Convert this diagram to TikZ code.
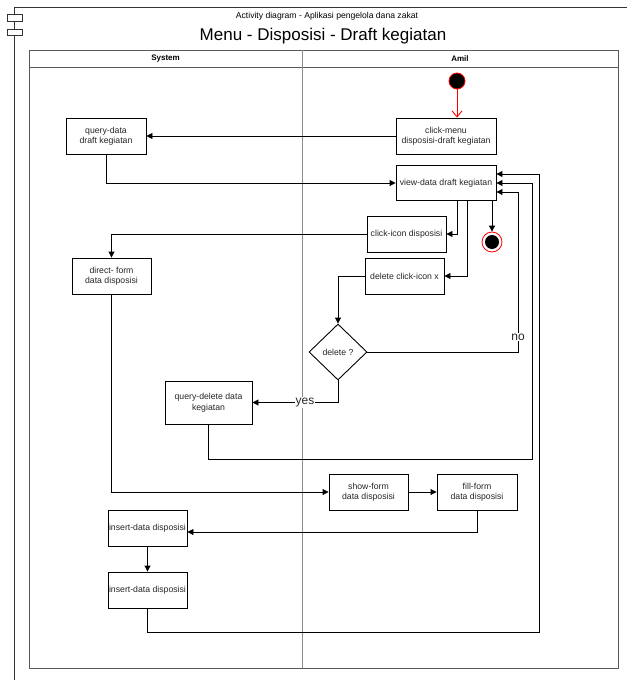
\documentclass[tikz,border=0pt]{standalone}
\usepackage{fontspec}
\setmainfont{Liberation Sans}
\usetikzlibrary{arrows.meta,shapes.geometric}

\tikzset{
  act/.style={draw=black, line width=0.9pt, fill=white, align=center, inner sep=1pt,
    text=black!85, font=\fontsize{8.7}{10.5}\selectfont},
  flow/.style={draw=black, line width=0.9pt, -{Triangle[length=6pt,width=6pt]}},
  lane/.style={draw=black!65, line width=1pt},
  guard/.style={fill=white, inner sep=1pt, text=black!85, font=\fontsize{12}{14}\selectfont},
}

\begin{document}
\begin{tikzpicture}[x=1pt, y=-1pt]
\useasboundingbox (0,0) rectangle (627,680);

% outer frame with component tabs
\draw[black!80, line width=1pt] (14,680) -- (14,7) -- (627,7);
\draw[black!80, line width=1pt, fill=white] (7,14) rectangle (22,21);
\draw[black!80, line width=1pt, fill=white] (7,29) rectangle (22,35);

% titles
\node[font=\fontsize{8.6}{10}\selectfont] (subtitle) at (327,16) {Activity diagram - Aplikasi pengelola dana zakat};
\node[font=\fontsize{17}{20}\selectfont] (title) at (323,36) {Menu - Disposisi - Draft kegiatan};

% swimlane pool
\draw[lane] (29,50) rectangle (618,668);
\draw[lane] (29,67) -- (618,67);
\draw[lane, draw=black!45] (302,50) -- (302,668);
\node[font=\fontsize{8}{9}\selectfont\bfseries] (lsys) at (165.5,58.5) {System};
\node[font=\fontsize{8}{9}\selectfont\bfseries] (lamil) at (460,58.5) {Amil};

% start / end
\node[circle, draw=red, fill=black, line width=0.8pt, minimum size=16pt, inner sep=0] (init) at (457,81) {};
\node[circle, draw=red, fill=white, line width=0.8pt, minimum size=20pt, inner sep=0] (fin) at (492,242) {};
\fill[black] (fin.center) circle (7pt);

% actions
\node[act, minimum width=100pt, minimum height=36pt] (menu) at (446,136) {click-menu\\disposisi-draft kegiatan};
\node[act, minimum width=100pt, minimum height=35pt] (view) at (446,183) {view-data draft kegiatan};
\node[act, minimum width=79pt, minimum height=36pt] (icondisp) at (406.5,234) {click-icon disposisi};
\node[act, minimum width=79pt, minimum height=36pt] (delx) at (404.5,276) {delete click-icon x};
\node[act, diamond, minimum width=58pt, minimum height=56pt, inner sep=0] (dec) at (338,352) {delete ?};
\node[act, minimum width=87pt, minimum height=43pt] (qdel) at (208.5,402.5) {query-delete data\\kegiatan};
\node[act, minimum width=80pt, minimum height=36pt] (qdata) at (106,136) {query-data\\draft kegiatan};
\node[act, minimum width=79pt, minimum height=36pt] (direct) at (111.5,276) {direct- form\\data disposisi};
\node[act, minimum width=79pt, minimum height=36pt] (show) at (368.5,492) {show-form\\data disposisi};
\node[act, minimum width=80pt, minimum height=36pt] (fill) at (477,492) {fill-form\\data disposisi};
\node[act, minimum width=79pt, minimum height=36pt] (ins1) at (147.5,528) {insert-data disposisi};
\node[act, minimum width=79pt, minimum height=36pt] (ins2) at (147.5,590) {insert-data disposisi};

% bends of the return paths
\coordinate (noturn) at (518,352);
\coordinate (delturn) at (532,459);
\coordinate (insturn) at (539,632);

% flows
\draw[draw=red, line width=0.9pt, -{Straight Barb[length=6pt,width=10pt]}] (init.south) -- (init.south |- menu.north);
\draw[flow] (menu.west) -- (qdata.east);
\draw[flow] (qdata.south) |- (view.west);
\draw[flow] ([xshift=11pt]view.south) |- (icondisp.east);
\draw[flow] ([xshift=21pt]view.south) |- (delx.east);
\draw[flow] ([xshift=46pt]view.south) -- (fin.north);
\draw[flow] (icondisp.west) -| (direct.north);
\draw[flow] (delx.west) -| (dec.north);
\draw[flow] (dec.east) -- (noturn) |- ([yshift=-9pt]view.east);
\node[guard] (nolbl) at (518,337) {no};
\draw[flow] (dec.south) |- (qdel.east);
\node[guard] (yeslbl) at (305,402.5) {yes};
\draw[flow] (qdel.south) |- (delturn) |- (view.east);
\draw[flow] (direct.south) |- (show.west);
\draw[flow] (show.east) -- (fill.west);
\draw[flow] (fill.south) |- ([yshift=-4pt]ins1.east);
\draw[flow] (ins1.south) -- (ins2.north);
\draw[flow] (ins2.south) |- (insturn) |- ([yshift=9pt]view.east);
\end{tikzpicture}
\end{document}
